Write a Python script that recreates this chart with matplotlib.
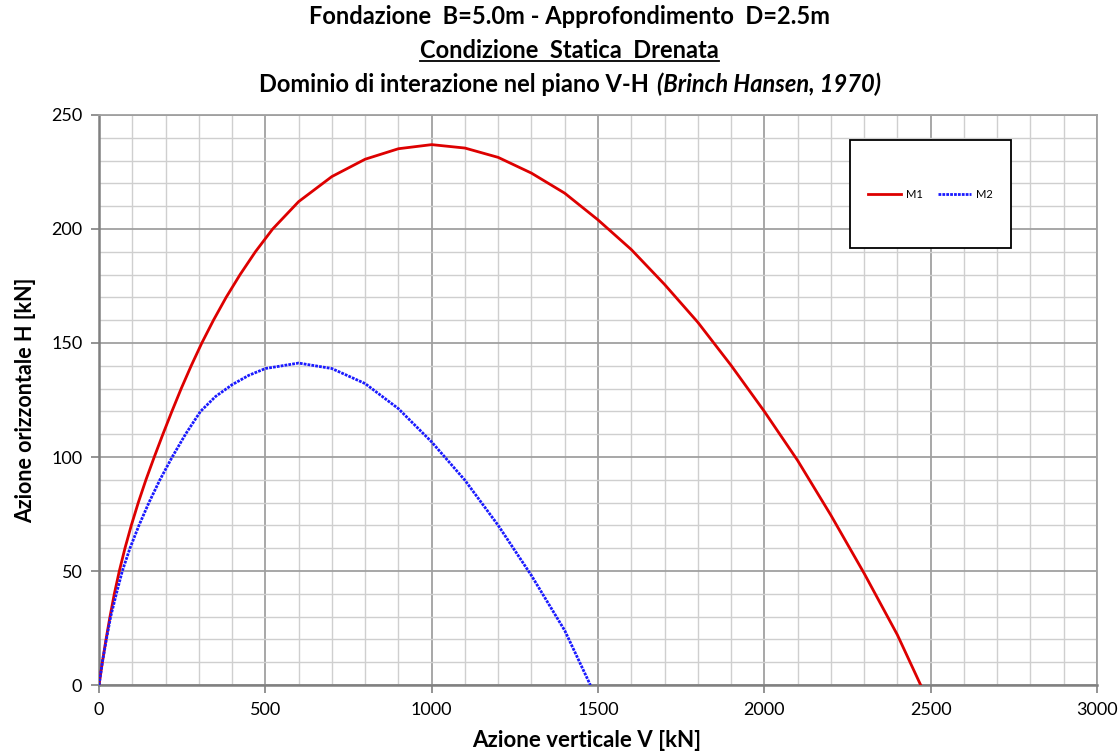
import matplotlib
matplotlib.use('Agg')
import matplotlib.pyplot as plt
from matplotlib.patches import Rectangle
from matplotlib.lines import Line2D
from matplotlib.ticker import MultipleLocator

# curve M1 (V [kN], H [kN])
v_m1 = [0, 10, 21, 33, 46, 61, 78, 97, 118, 141, 166, 192, 219, 247, 277, 309, 344,
        382, 424, 470, 522, 600, 700, 800, 900, 1000, 1100, 1200, 1300, 1400, 1500,
        1600, 1700, 1800, 1900, 2000, 2100, 2200, 2300, 2400, 2470]
h_m1 = [0, 10, 20, 30, 40, 50, 60, 70, 80, 90, 100, 110, 120, 130, 140, 150, 160,
        170, 180, 190, 200, 212, 223, 230.6, 235.2, 237, 235.5, 231.4, 224.5, 215.7, 204,
        191, 175.7, 159.1, 140.2, 120, 98.5, 74.5, 49, 22, 0]

# curve M2
v_m2 = [0, 10, 22, 35, 52, 70, 93, 120, 150, 183, 220, 260, 305, 350, 400, 450, 500,
        600, 700, 800, 900, 1000, 1100, 1200, 1300, 1400, 1477]
h_m2 = [0, 10, 20, 30, 40, 50, 60, 70, 80, 90, 100, 110, 120, 126.5, 131.7, 135.8,
        138.8, 141.2, 138.8, 132.2, 121.2, 106.6, 89.8, 70, 48, 23.9, 0]

x_ticks = [0, 500, 1000, 1500, 2000, 2500, 3000]
y_ticks = [0, 50, 100, 150, 200, 250]

title_1 = 'Fondazione  B=5.0m - Approfondimento  D=2.5m'
title_2 = 'Condizione  Statica  Drenata'
title_3a = 'Dominio di interazione nel piano V-H'
title_3b = '(Brinch Hansen, 1970)'

plt.rcParams['font.family'] = ['Lato', 'DejaVu Sans']

fig = plt.figure(figsize=(11.19, 7.56), dpi=100)
ax = fig.add_axes([0.0885, 0.0939, 0.8918, 0.754])

ax.plot(v_m1, h_m1, color='#dd0000', lw=2.0, label='M1', zorder=3)
ax.plot(v_m2, h_m2, color='#1a1aff', lw=2.0, ls=(0, (1, 0.4)), label='M2', zorder=3)

ax.set_xlim(0, 3000)
ax.set_ylim(0, 250)
ax.set_xticks(x_ticks)
ax.set_yticks(y_ticks)
ax.xaxis.set_minor_locator(MultipleLocator(100))
ax.yaxis.set_minor_locator(MultipleLocator(10))
ax.set_axisbelow(True)
ax.grid(which='major', color='#a0a0a0', lw=1.3)
ax.grid(which='minor', color='#cfcfcf', lw=1.0)

ax.tick_params(which='major', direction='out', length=6, width=1.2, color='#808080',
               labelsize=13, pad=6)
ax.tick_params(which='minor', length=0)

for s in ['left', 'bottom']:
    ax.spines[s].set_color('#808080')
    ax.spines[s].set_linewidth(1.8)
for s in ['top', 'right']:
    ax.spines[s].set_color('#a0a0a0')
    ax.spines[s].set_linewidth(1.3)

ax.set_xlabel('Azione verticale V [kN]', fontsize=16, fontweight='bold')
ax.set_ylabel('Azione orizzontale H [kN]', fontsize=15.5, fontweight='bold')
ax.xaxis.set_label_coords(0.489, -0.0965)
ax.yaxis.set_label_coords(-0.0731, 0.5)
ax.xaxis.label.set_va('center')
ax.yaxis.label.set_va('center')

# legend box
ax.add_patch(Rectangle((0.7525, 0.7667), 0.1613, 0.1893, transform=ax.transAxes,
                       facecolor='white', edgecolor='black', lw=1.3, zorder=4))
ax.legend(loc='center', bbox_to_anchor=(0.833, 0.861), ncol=2, frameon=False,
          fontsize=8, handlelength=3.0, columnspacing=1.4, handletextpad=0.4)\
    .set_zorder(5)

# titles
cx = 0.509
fs = 17
t1 = fig.text(cx, 1 - 17 / 756, title_1, ha='center', va='center', fontsize=fs,
              fontweight='bold')
t2 = fig.text(cx, 1 - 50 / 756, title_2, ha='center', va='center', fontsize=fs,
              fontweight='bold')
t3a = fig.text(0, 1 - 84 / 756, title_3a, ha='left', va='center', fontsize=fs,
               fontweight='bold')
t3b = fig.text(0, 1 - 84 / 756, title_3b, ha='left', va='center', fontsize=fs,
               fontweight='bold', style='italic')

fig.canvas.draw()
r = fig.canvas.get_renderer()
W = fig.bbox.width
H = fig.bbox.height
gap = 8
w_a = t3a.get_window_extent(r).width
w_b = t3b.get_window_extent(r).width
x0 = cx * W - (w_a + gap + w_b) / 2
t3a.set_x(x0 / W)
t3b.set_x((x0 + w_a + gap) / W)

bb = t2.get_window_extent(r)
yl = (bb.y0 + 1) / H
fig.add_artist(Line2D([bb.x0 / W, bb.x1 / W], [yl, yl], transform=fig.transFigure,
                      color='black', lw=1.3))

fig.savefig('out.png', dpi=100)
